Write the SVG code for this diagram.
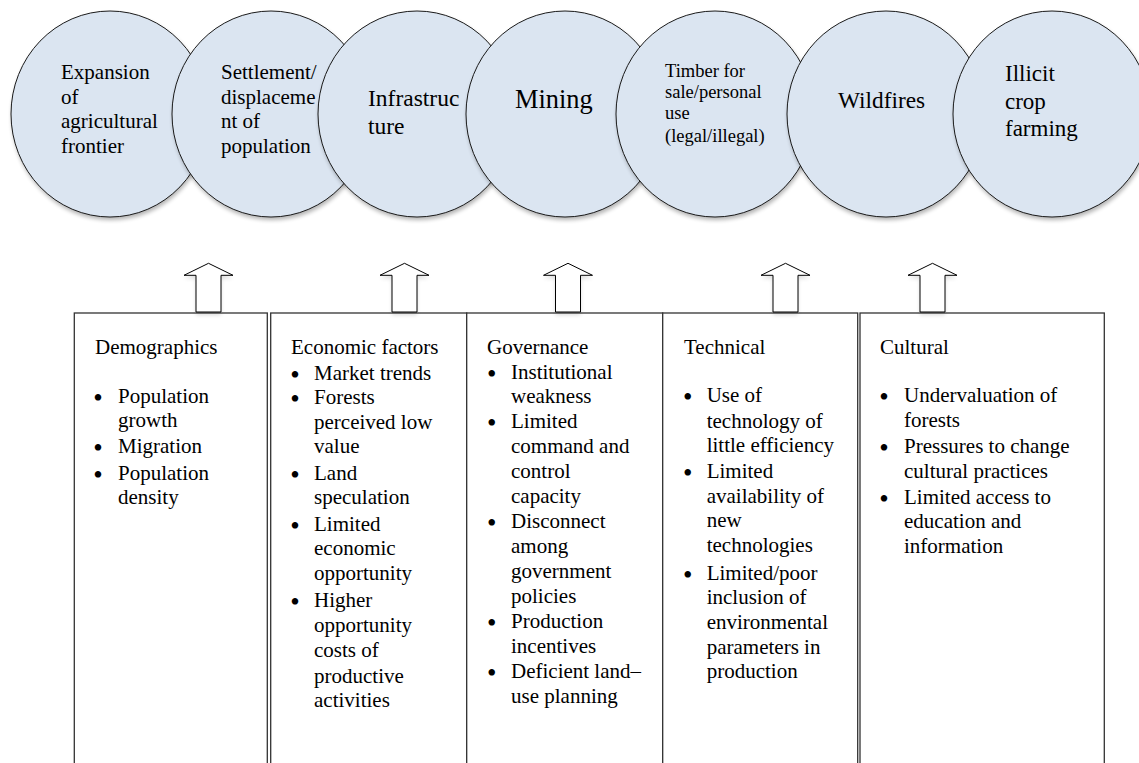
<svg xmlns="http://www.w3.org/2000/svg" xmlns:xlink="http://www.w3.org/1999/xlink" width="1139" height="763" viewBox="0 0 1139 763" font-family="Liberation Serif, Times New Roman, serif">
<defs>
<filter id="blur" x="-20%" y="-20%" width="140%" height="140%">
<feGaussianBlur stdDeviation="2"/>
</filter>
<path id="arrow" d="M0,263.3 L24.5,275.3 L12.5,275.3 L12.5,312 L-12.5,312 L-12.5,275.3 L-24.5,275.3 Z"/>
<style>
.c{fill:#dbe5f1;stroke:#1a1a1a;stroke-width:1}
.s{fill:#000;opacity:0.3;filter:url(#blur)}
.as{fill:#000;opacity:0.15;filter:url(#blur)}
.bx{fill:#fff;stroke:#333;stroke-width:1.3}
.ar{fill:#fff;stroke:#000;stroke-width:1}
.bu{font-size:27px}
text{font-family:"Liberation Serif","Times New Roman",serif}
</style>
</defs>
<rect width="1139" height="763" fill="#fff"/>

<g id="circle-agri">
<ellipse class="s" cx="111" cy="117" rx="99" ry="103"/>
<ellipse class="c" cx="110" cy="114" rx="99" ry="103"/>
<text font-size="21" fill="#000">
<tspan x="61" y="79">Expansion</tspan>
<tspan x="61" y="103.5">of</tspan>
<tspan x="61" y="128">agricultural</tspan>
<tspan x="61" y="152.5">frontier</tspan>
</text>
</g>
<g id="circle-settlement">
<ellipse class="s" cx="272" cy="117" rx="99" ry="103"/>
<ellipse class="c" cx="271" cy="114" rx="99" ry="103"/>
<text font-size="21" fill="#000">
<tspan x="221" y="79">Settlement/</tspan>
<tspan x="221" y="103.5">displaceme</tspan>
<tspan x="221" y="128">nt of</tspan>
<tspan x="221" y="152.5">population</tspan>
</text>
</g>
<g id="circle-infra">
<ellipse class="s" cx="418" cy="117" rx="99" ry="103"/>
<ellipse class="c" cx="417" cy="114" rx="99" ry="103"/>
<text font-size="23.5" fill="#000">
<tspan x="368" y="106">Infrastruc</tspan>
<tspan x="368" y="134">ture</tspan>
</text>
</g>
<g id="circle-mining">
<ellipse class="s" cx="566" cy="117" rx="99" ry="103"/>
<ellipse class="c" cx="565" cy="114" rx="99" ry="103"/>
<text font-size="26.4" fill="#000">
<tspan x="515" y="108">Mining</tspan>
</text>
</g>
<g id="circle-timber">
<ellipse class="s" cx="716" cy="117" rx="99" ry="103"/>
<ellipse class="c" cx="715" cy="114" rx="99" ry="103"/>
<text font-size="18.5" fill="#000">
<tspan x="665" y="77">Timber for</tspan>
<tspan x="665" y="98">sale/personal</tspan>
<tspan x="665" y="119">use</tspan>
<tspan x="665" y="142">(legal/illegal)</tspan>
</text>
</g>
<g id="circle-wildfires">
<ellipse class="s" cx="887" cy="117" rx="99" ry="103"/>
<ellipse class="c" cx="886" cy="114" rx="99" ry="103"/>
<text font-size="23.3" fill="#000">
<tspan x="838" y="108">Wildfires</tspan>
</text>
</g>
<g id="circle-illicit">
<ellipse class="s" cx="1053" cy="117" rx="99" ry="103"/>
<ellipse class="c" cx="1052" cy="114" rx="99" ry="103"/>
<text font-size="23" fill="#000">
<tspan x="1005" y="81">Illicit</tspan>
<tspan x="1005" y="108.5">crop</tspan>
<tspan x="1005" y="136">farming</tspan>
</text>
</g>

<g id="box-demographics">
<rect class="bx" x="74.3" y="313" width="193" height="470"/>
<text font-size="21" fill="#000"><tspan x="95" y="354">Demographics</tspan>
<tspan class="bu" x="93.3" y="407">•</tspan><tspan x="118" y="403">Population</tspan><tspan x="118" y="427">growth</tspan>
<tspan class="bu" x="93.3" y="457">•</tspan><tspan x="118" y="453">Migration</tspan>
<tspan class="bu" x="93.3" y="484">•</tspan><tspan x="118" y="480">Population</tspan><tspan x="118" y="504">density</tspan></text>
</g>
<g id="box-economic">
<rect class="bx" x="270.7" y="313" width="196" height="470"/>
<text font-size="21" fill="#000"><tspan x="291" y="354">Economic factors</tspan>
<tspan class="bu" x="290.3" y="384">•</tspan><tspan x="314" y="380">Market trends</tspan>
<tspan class="bu" x="290.3" y="408">•</tspan><tspan x="314" y="404">Forests</tspan><tspan x="314" y="429">perceived low</tspan><tspan x="314" y="453">value</tspan>
<tspan class="bu" x="290.3" y="484">•</tspan><tspan x="314" y="480">Land</tspan><tspan x="314" y="504">speculation</tspan>
<tspan class="bu" x="290.3" y="535">•</tspan><tspan x="314" y="531">Limited</tspan><tspan x="314" y="555">economic</tspan><tspan x="314" y="580">opportunity</tspan>
<tspan class="bu" x="290.3" y="611">•</tspan><tspan x="314" y="607">Higher</tspan><tspan x="314" y="632">opportunity</tspan><tspan x="314" y="657">costs of</tspan><tspan x="314" y="683">productive</tspan><tspan x="314" y="707">activities</tspan></text>
</g>
<g id="box-governance">
<rect class="bx" x="466.7" y="313" width="196" height="470"/>
<text font-size="21" fill="#000"><tspan x="487" y="354">Governance</tspan>
<tspan class="bu" x="487" y="383">•</tspan><tspan x="511" y="379">Institutional</tspan><tspan x="511" y="403">weakness</tspan>
<tspan class="bu" x="487" y="432">•</tspan><tspan x="511" y="428">Limited</tspan><tspan x="511" y="453">command and</tspan><tspan x="511" y="478">control</tspan><tspan x="511" y="503">capacity</tspan>
<tspan class="bu" x="487" y="532">•</tspan><tspan x="511" y="528">Disconnect</tspan><tspan x="511" y="553">among</tspan><tspan x="511" y="578">government</tspan><tspan x="511" y="603">policies</tspan>
<tspan class="bu" x="487" y="632">•</tspan><tspan x="511" y="628">Production</tspan><tspan x="511" y="653">incentives</tspan>
<tspan class="bu" x="487" y="682">•</tspan><tspan x="511" y="678">Deficient land–</tspan><tspan x="511" y="703">use planning</tspan></text>
</g>
<g id="box-technical">
<rect class="bx" x="662.7" y="313" width="195" height="470"/>
<text font-size="21" fill="#000"><tspan x="684" y="354">Technical</tspan>
<tspan class="bu" x="683" y="406">•</tspan><tspan x="706.7" y="402">Use of</tspan><tspan x="706.7" y="428">technology of</tspan><tspan x="706.7" y="452">little efficiency</tspan>
<tspan class="bu" x="683" y="482">•</tspan><tspan x="706.7" y="478">Limited</tspan><tspan x="706.7" y="503">availability of</tspan><tspan x="706.7" y="527">new</tspan><tspan x="706.7" y="552">technologies</tspan>
<tspan class="bu" x="683" y="584">•</tspan><tspan x="706.7" y="580">Limited/poor</tspan><tspan x="706.7" y="604">inclusion of</tspan><tspan x="706.7" y="629">environmental</tspan><tspan x="706.7" y="654">parameters in</tspan><tspan x="706.7" y="678">production</tspan></text>
</g>
<g id="box-cultural">
<rect class="bx" x="860" y="313" width="244.3" height="470"/>
<text font-size="21" fill="#000"><tspan x="880" y="354">Cultural</tspan>
<tspan class="bu" x="879.3" y="406">•</tspan><tspan x="904" y="402">Undervaluation of</tspan><tspan x="904" y="427">forests</tspan>
<tspan class="bu" x="879.3" y="457">•</tspan><tspan x="904" y="453">Pressures to change</tspan><tspan x="904" y="478">cultural practices</tspan>
<tspan class="bu" x="879.3" y="508">•</tspan><tspan x="904" y="504">Limited access to</tspan><tspan x="904" y="528">education and</tspan><tspan x="904" y="553">information</tspan></text>
</g>

<g id="connectors">
<use xlink:href="#arrow" class="as" transform="translate(208.5,3)"/>
<use xlink:href="#arrow" class="ar" transform="translate(208.5,0)"/>
<use xlink:href="#arrow" class="as" transform="translate(404.5,3)"/>
<use xlink:href="#arrow" class="ar" transform="translate(404.5,0)"/>
<use xlink:href="#arrow" class="as" transform="translate(568,3)"/>
<use xlink:href="#arrow" class="ar" transform="translate(568,0)"/>
<use xlink:href="#arrow" class="as" transform="translate(785.5,3)"/>
<use xlink:href="#arrow" class="ar" transform="translate(785.5,0)"/>
<use xlink:href="#arrow" class="as" transform="translate(932.5,3)"/>
<use xlink:href="#arrow" class="ar" transform="translate(932.5,0)"/>
</g>
</svg>
